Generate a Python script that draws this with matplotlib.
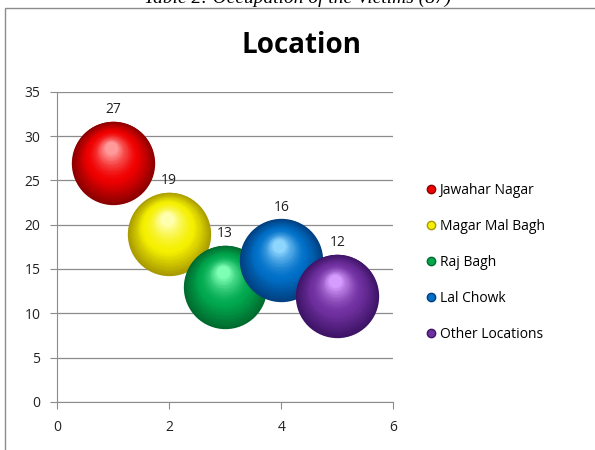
import numpy as np
import matplotlib
matplotlib.use("Agg")
import matplotlib.pyplot as plt
from matplotlib.colors import to_rgb
from matplotlib.lines import Line2D
from matplotlib.patches import Rectangle
from matplotlib.transforms import offset_copy

# data
locations = ["Jawahar Nagar", "Magar Mal Bagh", "Raj Bagh", "Lal Chowk", "Other Locations"]
x_pos = [1, 2, 3, 4, 5]
counts = [27, 19, 13, 16, 12]

# (edge, base, highlight) per bubble
shades = [
    ("#8a0000", "#f00000", "#ff9a9a"),
    ("#a89a00", "#f5f000", "#ffffb0"),
    ("#006a2e", "#00a84e", "#7dffb4"),
    ("#003f80", "#0070c8", "#8fd6ff"),
    ("#3d1466", "#7030a0", "#d69cff"),
]

plt.rcParams['font.family'] = ['Open Sans', 'DejaVu Sans']

fig = plt.figure(figsize=(5.95, 4.5), dpi=100)
ax = fig.add_axes([0.096, 0.107, 0.565, 0.689])

# chart frame and cut-off caption at the very top
fig.patches.append(Rectangle((5 / 595, -0.01), 1.0, 1 - 8 / 450 + 0.01,
                             transform=fig.transFigure, fill=False,
                             edgecolor="#8c8c8c", linewidth=1.0))
fig.text(0.5, 1 - 3 / 450, "Table 2: Occupation of the Victims (87)",
         ha="center", va="baseline", fontsize=14, style="italic",
         family="Liberation Serif")

fig.text(0.506, 0.898, "Location", ha="center", va="center",
         fontsize=20, fontweight="bold")


def mix(c1, c2, t):
    a, b = np.array(to_rgb(c1)), np.array(to_rgb(c2))
    return tuple(a + (b - a) * t)


R = 30.0          # bubble radius in points
n_layers = 40
for k, (xv, yv) in enumerate(zip(x_pos, counts)):
    edge, base, hi = shades[k]
    for i in range(n_layers):
        t = i / (n_layers - 1)
        r = R * (1 - 0.85 * t)
        dx, dy = -0.05 * R * t, 0.35 * R * t
        if t < 0.45:
            col = mix(edge, base, t / 0.45)
        else:
            col = mix(base, hi, ((t - 0.45) / 0.55) ** 1.6)
        tr = offset_copy(ax.transData, fig=fig, x=dx, y=dy, units="points")
        ax.scatter([xv], [yv], s=(2 * r) ** 2, color=[col], transform=tr,
                   linewidths=0, zorder=3 + k, clip_on=False)
    ax.annotate(str(yv), (xv, yv), xytext=(0, 38), textcoords="offset points",
                ha="center", va="center", fontsize=10, color="#222222",
                zorder=20)

ax.set_xlim(0, 6)
ax.set_ylim(0, 35)
ax.set_xticks(range(0, 7, 2))
ax.set_yticks(range(0, 36, 5))
ax.grid(axis="y", color="#8c8c8c", linewidth=0.9)
ax.set_axisbelow(True)
for s in ["top", "right"]:
    ax.spines[s].set_visible(False)
for s in ["left", "bottom"]:
    ax.spines[s].set_color("#8c8c8c")
ax.tick_params(colors="#8c8c8c", labelcolor="#222222", labelsize=10,
               length=5, direction="out")
ax.tick_params(axis="y", pad=7)
ax.tick_params(axis="x", pad=8)

handles = [Line2D([], [], linestyle="none", marker="o", markersize=6,
                  markerfacecolor=shades[i][1], markeredgecolor=shades[i][0])
           for i in range(len(locations))]
fig.legend(handles, locations, loc="upper left", bbox_to_anchor=(0.706, 0.606),
           frameon=False, fontsize=10, labelspacing=1.52, handletextpad=0.2,
           handlelength=0.8, borderaxespad=0)

fig.savefig("out.png", dpi=100)
